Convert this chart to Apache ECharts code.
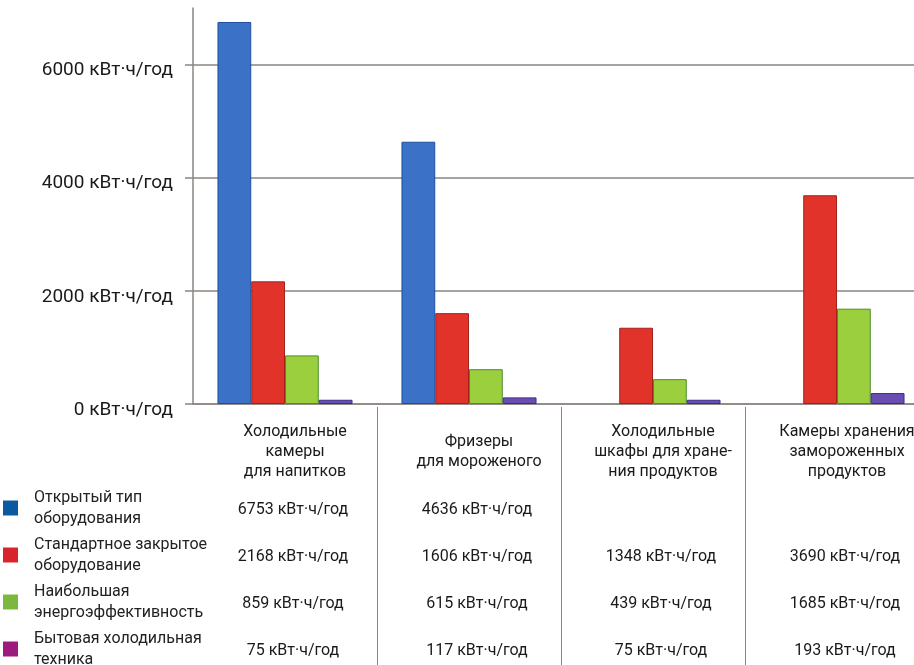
<!DOCTYPE html>
<html>
<head>
<meta charset="utf-8">
<script src="https://cdn.jsdelivr.net/npm/echarts@6/dist/echarts.min.js"></script>
<style>
  html, body { margin: 0; padding: 0; background: #fff; }
  #chart { width: 914px; height: 665px; }
</style>
</head>
<body>
<div id="chart"></div>
<script>
// Energy use of refrigeration equipment, kWh per year
const categories = [
  'Холодильные\nкамеры\nдля напитков',
  'Фризеры\nдля мороженого',
  'Холодильные\nшкафы для хране-\nния продуктов',
  'Камеры хранения\nзамороженных\nпродуктов'
];
const seriesNames = [
  'Открытый тип\nоборудования',
  'Стандартное закрытое\nоборудование',
  'Наибольшая\nэнергоэффективность',
  'Бытовая холодильная\nтехника'
];
const openType = [6753, 4636, null, null];
const standardClosed = [2168, 1606, 1348, 3690];
const mostEfficient = [859, 615, 439, 1685];
const household = [75, 117, 75, 193];
const yTicks = [0, 2000, 4000, 6000];
const unit = 'кВт·ч/год';

const FONT = "Roboto, 'Liberation Sans', sans-serif";
const GRID_COLOR = '#8c8580';
const TEXT_COLOR = '#1a1a1a';

const seriesValues = [openType, standardClosed, mostEfficient, household];
const barStyles = [
  { color: '#3b72c8', borderColor: '#1e4fa0' },
  { color: '#e2332b', borderColor: '#a3211b' },
  { color: '#9bcf3e', borderColor: '#4c8c2c' },
  { color: '#6a4fb3', borderColor: '#3d2a85' }
];
const legendColors = ['#0b5aa0', '#d8242a', '#7cb83e', '#9b1c7c'];

// Cells of the value table under the chart: [column, row, value]
const tableCells = [];
seriesValues.forEach((vals, row) => {
  vals.forEach((v, col) => {
    if (v !== null) tableCells.push([col, row, v]);
  });
});

const chart = echarts.init(document.getElementById('chart'), null, { renderer: 'canvas' });

// plot area spans four equal columns; the last one runs past the right edge
const PLOT_LEFT = 193;
const PLOT_WIDTH = 736;

const gridBase = { left: PLOT_LEFT, width: PLOT_WIDTH, outerBoundsMode: 'none', containLabel: false };

const option = {
  backgroundColor: '#ffffff',
  animation: false,
  textStyle: { fontFamily: FONT },
  legend: {
    orient: 'vertical',
    left: 3,
    top: 487,
    height: 220,
    padding: 0,
    itemGap: 5,
    itemWidth: 15,
    itemHeight: 15,
    selectedMode: false,
    icon: 'rect',
    data: seriesNames.map((n, i) => ({
      name: n,
      itemStyle: { color: legendColors[i], borderWidth: 0 }
    })),
    textStyle: {
      fontFamily: FONT,
      fontSize: 16,
      lineHeight: 21,
      color: '#222',
      padding: [0, 0, 0, 11]
    }
  },
  grid: [
    Object.assign({}, gridBase, { top: 8, height: 396 }),
    Object.assign({}, gridBase, { top: 407, height: 270 }),
    Object.assign({}, gridBase, { top: 486, height: 188 })
  ],
  xAxis: [
    {
      gridIndex: 0,
      type: 'category',
      data: categories,
      axisLine: { lineStyle: { color: GRID_COLOR, width: 1.5 } },
      axisTick: { show: false },
      axisLabel: {
        fontFamily: FONT,
        fontSize: 16,
        lineHeight: 20,
        color: TEXT_COLOR,
        margin: 48,
        verticalAlign: 'middle',
        align: 'center',
        padding: [0, 0, 0, 20],
        interval: 0
      }
    },
    {
      gridIndex: 1,
      type: 'category',
      data: categories,
      axisLine: { show: false },
      axisTick: { show: false },
      axisLabel: { show: false },
      splitLine: {
        show: true,
        showMinLine: false,
        showMaxLine: false,
        lineStyle: { color: GRID_COLOR, width: 1 }
      }
    },
    {
      gridIndex: 2,
      type: 'category',
      data: categories,
      show: false
    }
  ],
  yAxis: [
    {
      gridIndex: 0,
      type: 'value',
      min: 0,
      max: 7000,
      interval: 2000,
      axisLine: { show: true, lineStyle: { color: GRID_COLOR, width: 1.5 } },
      axisTick: {
        show: true,
        length: 8,
        customValues: yTicks,
        lineStyle: { color: GRID_COLOR, width: 1.5 }
      },
      axisLabel: {
        customValues: yTicks,
        fontFamily: FONT,
        fontSize: 19,
        color: TEXT_COLOR,
        margin: 20,
        verticalAlign: 'top',
        lineHeight: 12,
        formatter: v => v + ' ' + unit
      },
      splitLine: {
        show: true,
        lineStyle: { color: GRID_COLOR, width: 1.5 }
      }
    },
    { gridIndex: 1, type: 'value', show: false, min: 0, max: 1 },
    {
      gridIndex: 2,
      type: 'category',
      data: [0, 1, 2, 3],
      inverse: true,
      show: false
    }
  ],
  series: [
    ...seriesValues.map((vals, i) => ({
      name: seriesNames[i],
      type: 'bar',
      xAxisIndex: 0,
      yAxisIndex: 0,
      data: vals,
      barGap: '0%',
      barCategoryGap: '26.6%',
      clip: false,
      itemStyle: {
        color: barStyles[i].color,
        borderColor: barStyles[i].borderColor,
        borderWidth: 1
      }
    })),
    {
      name: 'table',
      type: 'scatter',
      xAxisIndex: 2,
      yAxisIndex: 2,
      data: tableCells,
      symbolSize: 0,
      silent: true,
      label: {
        show: true,
        position: 'inside',
        offset: [8, 0],
        fontFamily: FONT,
        fontSize: 16,
        color: TEXT_COLOR,
        textBorderWidth: 0,
        opacity: 1,
        formatter: p => p.value[2] + ' ' + unit
      }
    }
  ]
};

chart.setOption(option);
</script>
</body>
</html>
